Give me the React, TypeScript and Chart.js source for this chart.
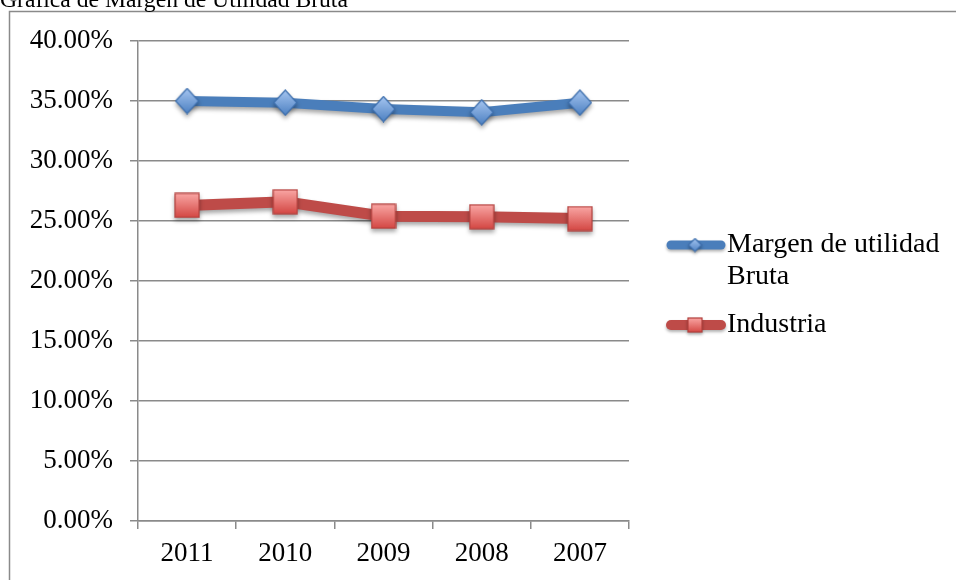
import React, { useEffect, useRef } from "react";
import { Chart, registerables } from "chart.js";

Chart.register(...registerables);

const titleText = "Gráfica de Margen de Utilidad Bruta";
const categories = ["2011", "2010", "2009", "2008", "2007"];
const margenValues = [35.0, 34.86, 34.33, 34.06, 34.86];
const industriaValues = [26.3, 26.6, 25.4, 25.35, 25.2];
const seriesLabels = [["Margen de utilidad", "Bruta"], ["Industria"]];
const yMin = 0;
const yMax = 40;
const yStep = 5;

const FONT = "'Liberation Serif', 'Times New Roman', serif";

function makeDiamond(w: number, h: number, top: string, bottom: string, stroke: string) {
  const c = document.createElement("canvas");
  c.width = w;
  c.height = h;
  const ctx = c.getContext("2d")!;
  const g = ctx.createLinearGradient(0, 0, 0, h);
  g.addColorStop(0, top);
  g.addColorStop(1, bottom);
  ctx.beginPath();
  ctx.moveTo(w / 2, 1);
  ctx.lineTo(w - 1, h / 2);
  ctx.lineTo(w / 2, h - 1);
  ctx.lineTo(1, h / 2);
  ctx.closePath();
  ctx.fillStyle = g;
  ctx.fill();
  ctx.lineWidth = 1.2;
  ctx.strokeStyle = stroke;
  ctx.stroke();
  return c;
}

function makeSquare(size: number, top: string, bottom: string, stroke: string) {
  const c = document.createElement("canvas");
  c.width = size;
  c.height = size;
  const ctx = c.getContext("2d")!;
  const g = ctx.createLinearGradient(0, 0, 0, size);
  g.addColorStop(0, top);
  g.addColorStop(1, bottom);
  ctx.fillStyle = g;
  ctx.fillRect(1, 1, size - 2, size - 2);
  ctx.lineWidth = 1.2;
  ctx.strokeStyle = stroke;
  ctx.strokeRect(1, 1, size - 2, size - 2);
  return c;
}

export default function App() {
  const ref = useRef<HTMLCanvasElement | null>(null);

  useEffect(() => {
    const canvas = ref.current;
    if (!canvas) return;

    const blueLine = "#4a7ebb";
    const redLine = "#be4b48";
    const diamond = makeDiamond(25, 27, "#a9c8f2", "#4a7ec0", "#3d6fae");
    const square = makeSquare(26, "#fbaaa8", "#d2433f", "#b3403d");
    const diamondSmall = makeDiamond(15, 15, "#a9c8f2", "#4a7ec0", "#3d6fae");
    const squareSmall = makeSquare(16, "#fbaaa8", "#d2433f", "#b3403d");
    const legendMarkers = [diamondSmall, squareSmall];

    const framePlugin = {
      id: "frame",
      beforeDraw(chart: any) {
        const ctx = chart.ctx;
        ctx.save();
        ctx.fillStyle = "#ffffff";
        ctx.fillRect(0, 0, chart.width, chart.height);
        ctx.strokeStyle = "#8a8a8a";
        ctx.lineWidth = 1.5;
        ctx.beginPath();
        ctx.moveTo(9.5, chart.height + 5);
        ctx.lineTo(9.5, 11.5);
        ctx.lineTo(956, 11.5);
        ctx.stroke();
        ctx.font = `20px ${FONT}`;
        const w = ctx.measureText(titleText).width;
        const size = 20 * (348 / w);
        ctx.font = `${size}px ${FONT}`;
        ctx.fillStyle = "#000";
        ctx.textBaseline = "alphabetic";
        ctx.textAlign = "left";
        ctx.fillText(titleText, 0, 6.5);
        ctx.restore();
      },
    };

    const shadowPlugin = {
      id: "shadow",
      beforeDatasetDraw(chart: any) {
        const ctx = chart.ctx;
        ctx.save();
        ctx.shadowColor = "rgba(0,0,0,0.35)";
        ctx.shadowBlur = 4;
        ctx.shadowOffsetX = 0;
        ctx.shadowOffsetY = 3;
      },
      afterDatasetDraw(chart: any) {
        chart.ctx.restore();
      },
    };

    const legendPlugin = {
      id: "customLegend",
      afterDraw(chart: any) {
        const ctx = chart.ctx;
        ctx.save();
        let y = 245;
        const lineH = 32;
        chart.data.datasets.forEach((ds: any, i: number) => {
          ctx.save();
          ctx.shadowColor = "rgba(0,0,0,0.3)";
          ctx.shadowBlur = 3;
          ctx.shadowOffsetY = 2;
          ctx.strokeStyle = ds.borderColor;
          ctx.lineWidth = ds.borderWidth - 1;
          ctx.lineCap = "round";
          ctx.beginPath();
          ctx.moveTo(671, y);
          ctx.lineTo(721, y);
          ctx.stroke();
          const m = legendMarkers[i];
          ctx.drawImage(m, 695 - m.width / 2, y - m.height / 2);
          ctx.restore();
          ctx.fillStyle = "#000";
          ctx.font = `28px ${FONT}`;
          ctx.textBaseline = "middle";
          ctx.textAlign = "left";
          const lines: string[] = Array.isArray(ds.label) ? ds.label : [ds.label];
          lines.forEach((t, k) => ctx.fillText(t, 727, y + k * lineH));
          y += lines.length * lineH + 16;
        });
        ctx.restore();
      },
    };

    const chart = new Chart(canvas, {
      type: "line",
      data: {
        labels: categories,
        datasets: [
          {
            label: seriesLabels[0] as any,
            data: margenValues,
            borderColor: blueLine,
            backgroundColor: blueLine,
            borderWidth: 10,
            pointStyle: diamond as any,
            pointRadius: 12,
            tension: 0,
          },
          {
            label: seriesLabels[1] as any,
            data: industriaValues,
            borderColor: redLine,
            backgroundColor: redLine,
            borderWidth: 11,
            pointStyle: square as any,
            pointRadius: 12,
            tension: 0,
          },
        ],
      },
      options: {
        responsive: false,
        animation: false,
        devicePixelRatio: 1,
        layout: { padding: { left: 0, right: 328, top: 41, bottom: 0 } },
        plugins: {
          legend: { display: false },
          tooltip: { enabled: false },
          title: { display: false },
        },
        scales: {
          x: {
            offset: true,
            grid: {
              offset: true,
              drawOnChartArea: false,
              drawTicks: true,
              tickLength: 8,
              color: "#8a8a8a",
              lineWidth: 1.5,
            },
            border: { display: true, color: "#8a8a8a", width: 1.5 },
            ticks: {
              color: "#000",
              font: { family: FONT, size: 27 },
              padding: 9,
              maxRotation: 0,
            },
            afterFit(scale: any) {
              scale.height = 59;
            },
          },
          y: {
            min: yMin,
            max: yMax,
            grid: {
              color: "#8a8a8a",
              lineWidth: 1.5,
              tickLength: 8,
            },
            border: { display: true, color: "#8a8a8a", width: 1.5 },
            ticks: {
              stepSize: yStep,
              color: "#000",
              font: { family: FONT, size: 27 },
              padding: 17,
              callback: (v: any) => Number(v).toFixed(2) + "%",
            },
            afterFit(scale: any) {
              scale.width = 138;
            },
          },
        },
      },
      plugins: [framePlugin, shadowPlugin, legendPlugin],
    });

    return () => chart.destroy();
  }, []);

  return (
    <div style={{ position: "absolute", left: 0, top: 0, width: 957, height: 580 }}>
      <canvas ref={ref} width={957} height={580} style={{ display: "block" }} />
    </div>
  );
}
